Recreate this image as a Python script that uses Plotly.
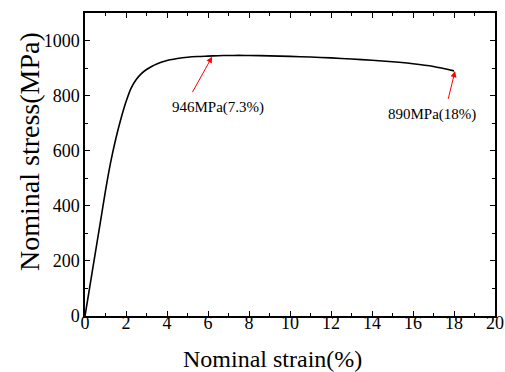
import plotly.graph_objects as go

strain = [0, 0.25, 0.5, 0.75, 1.0, 1.25, 1.5, 1.75, 2.0, 2.25, 2.5, 2.75, 3.0, 3.25, 3.5,
          3.75, 4.0, 4.25, 4.5, 4.75, 5.0, 5.5, 6.0, 6.5, 7.0, 7.5, 8.0, 9.0, 10.0, 11.0,
          12.0, 13.0, 14.0, 15.0, 16.0, 17.0, 18.0]
stress = [0, 114, 227.5, 341, 455, 557.5, 642.5, 715, 777.5, 827.5, 858.5, 880, 895, 906, 915,
          922, 927.5, 931.5, 935, 937.5, 939.5, 942, 943.5, 945, 945.8, 946, 945.8, 944.5, 942.5, 940,
          937, 933, 928.5, 923, 916, 906, 890]

ann_text = ["946MPa(7.3%)", "890MPa(18%)"]
ann_tip_x = [6.2, 18.05]
ann_tip_y = [941, 889]
ann_tail_x = [5.2, 17.7]
ann_tail_y = [807, 783]
ann_label_x = [6.5, 16.95]
ann_label_y = [757, 732]

x_title = "Nominal strain(%)"
y_title = "Nominal stress(MPa)"

font_family = "Liberation Serif, Times New Roman, serif"

W, H = 505, 372
l, r, t, b = 85, 10, 13, 56
pw, ph = W - l - r, H - t - b

fig = go.Figure()
fig.add_trace(go.Scatter(x=strain, y=stress, mode="lines",
                         line=dict(color="black", width=1.6, shape="spline", smoothing=0.8),
                         showlegend=False, hoverinfo="skip"))

annotations = []
for i in range(len(ann_text)):
    annotations.append(dict(x=ann_tip_x[i], y=ann_tip_y[i], ax=ann_tail_x[i], ay=ann_tail_y[i],
                            xref="x", yref="y", axref="x", ayref="y", text="",
                            showarrow=True, arrowhead=2, arrowsize=1.2, arrowwidth=1,
                            arrowcolor="red"))
    annotations.append(dict(x=ann_label_x[i], y=ann_label_y[i], xref="x", yref="y",
                            text=ann_text[i], showarrow=False,
                            xanchor="center", yanchor="middle",
                            font=dict(family=font_family, size=15, color="black")))

# axis titles as paper annotations (pixel centres converted to paper coords)
annotations.append(dict(x=(272 - l) / pw, y=(H - b - 359) / ph, xref="paper", yref="paper",
                        text=x_title, showarrow=False, xanchor="center", yanchor="middle",
                        font=dict(family=font_family, size=24, color="black")))
annotations.append(dict(x=(29 - l) / pw, y=(H - b - 152) / ph, xref="paper", yref="paper",
                        text=y_title, showarrow=False, textangle=-90,
                        xanchor="center", yanchor="middle",
                        font=dict(family=font_family, size=28, color="black")))

axis_common = dict(showline=True, linecolor="black", linewidth=1.5, mirror="allticks",
                   ticks="inside", ticklen=5, tickwidth=1, tickcolor="black",
                   showgrid=False, zeroline=False, automargin=False,
                   tickfont=dict(family=font_family, size=18, color="black"))

fig.update_layout(
    width=W, height=H,
    margin=dict(l=l, r=r, t=t, b=b),
    paper_bgcolor="white", plot_bgcolor="white",
    annotations=annotations,
    xaxis=dict(range=[0, 20], dtick=2, tick0=0, ticklabelstandoff=-10,
               minor=dict(dtick=1, ticks="inside", ticklen=3, tickcolor="black"),
               **axis_common),
    yaxis=dict(range=[0, 1100], dtick=200, tick0=0, ticklabelstandoff=0,
               minor=dict(dtick=100, ticks="inside", ticklen=3, tickcolor="black"),
               **axis_common),
)

fig.write_html("out.html", config={"displayModeBar": False},
               post_script="document.body.style.margin='0';document.body.style.padding='0';")
